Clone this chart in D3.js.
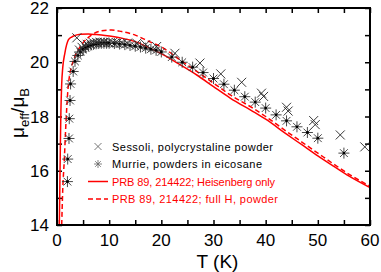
<!DOCTYPE html>
<html>
<head>
<style>
  body, html { margin: 0; padding: 0; background: #fff; }
  svg { display: block; font-family: "Liberation Sans", Arial, sans-serif; }
</style>
</head>
<body>
<svg id="svg" width="381" height="272"></svg>
<script src="https://cdn.jsdelivr.net/npm/d3@7"></script>
<script>
// Sessoli, polycrystalline powder: [T, mu_eff]
const sessoli = [
  [3.8, 20.9], [4.3, 20.45], [4.8, 20.55], [5.3, 20.62], [5.8, 20.66], [6.4, 20.7],
  [7.0, 20.72], [7.6, 20.73], [8.3, 20.74], [9.0, 20.74], [9.8, 20.73], [10.6, 20.72],
  [11.5, 20.71], [12.5, 20.7], [13.5, 20.7], [15.3, 20.7], [17.0, 20.65], [19.1, 20.58],
  [22.6, 20.33], [27.4, 19.97], [31.4, 19.57], [35.4, 19.26], [39.2, 18.86], [39.6, 18.74],
  [44.0, 18.34], [44.3, 18.2], [49.2, 17.85], [49.5, 17.7], [54.3, 17.32], [59.0, 16.88]
]
// Murrie, powders in eicosane
const murrie = [
  [2.0, 15.6], [2.05, 16.43], [2.3, 17.19], [2.35, 17.92], [2.5, 18.59], [2.6, 19.2],
  [3.1, 19.66], [3.45, 20.03], [4.0, 20.25], [4.5, 20.38], [5.0, 20.47], [5.5, 20.54],
  [6.0, 20.59], [6.5, 20.63], [7.0, 20.66], [7.5, 20.68], [8.0, 20.69], [8.5, 20.7],
  [9.0, 20.7], [9.5, 20.7], [10, 20.7], [11, 20.69], [12, 20.67], [13, 20.65],
  [14, 20.62], [15, 20.59], [16, 20.56], [17, 20.52], [18, 20.48], [19, 20.44],
  [20, 20.38], [22, 20.19], [24, 20.0], [26, 19.82], [28, 19.62], [30, 19.4],
  [32, 19.19], [34, 18.97], [36, 18.73], [38, 18.53], [40, 18.31], [42, 18.06],
  [44, 17.84], [46, 17.62], [48, 17.41], [50, 17.2], [55, 16.65]
]
// PRB 89, 214422; Heisenberg only
const heisenberg = [
  [0.45, 14.0], [0.55, 15.5], [0.65, 17.0], [0.75, 18.2], [0.9, 19.2], [1.1, 19.8],
  [1.5, 20.33], [2.2, 20.83], [2.8, 20.93], [3.5, 20.99], [4.5, 21.03], [6.0, 21.04],
  [7.5, 21.02], [9.2, 20.99], [11, 20.94], [12.4, 20.89], [15, 20.76], [17.5, 20.55],
  [20.4, 20.27], [23.5, 19.92], [26.8, 19.53], [30, 19.1], [33.2, 18.68], [37.6, 18.18],
  [40, 17.9], [44, 17.35], [47, 16.95], [50, 16.55], [53, 16.17], [56, 15.8], [60, 15.38]
]
// PRB 89, 214422; full H, powder
const fullH = [
  [0.9, 14.0], [1.1, 15.3], [1.4, 16.4], [1.7, 17.7], [2.05, 18.87], [2.4, 19.5],
  [2.8, 19.85], [3.4, 20.2], [4.7, 20.64], [6.6, 21.0], [8.6, 21.16], [10.5, 21.19],
  [12.4, 21.13], [15, 21.0], [17.5, 20.78], [20.4, 20.52], [23.5, 20.1], [26.8, 19.66],
  [30, 19.23], [33.2, 18.8], [37.6, 18.3], [40, 18.0], [44, 17.45], [47, 17.05],
  [50, 16.65], [53, 16.25], [56, 15.87], [60, 15.43]
]
const xTicks = [0, 10, 20, 30, 40, 50, 60]
const yTicks = [14, 16, 18, 20, 22]
const legendLabels = [
  "Sessoli, polycrystaline powder",
  "Murrie, powders in eicosane",
  "PRB 89, 214422; Heisenberg only",
  "PRB 89, 214422; full H, powder"
]

const margin = { top: 8, right: 11, bottom: 47, left: 57 }
const W = 381, H = 272
const svg = d3.select('#svg')

const x = d3.scaleLinear().domain([0, 60]).range([margin.left, W - margin.right])
const y = d3.scaleLinear().domain([14, 22]).range([H - margin.bottom, margin.top])

svg.append("clipPath").attr("id", "clip")
  .append("rect")
  .attr("x", x(0)).attr("y", y(22))
  .attr("width", x(60) - x(0)).attr("height", y(14) - y(22))

// axes with inward ticks on all sides
const tickLen = 5
svg.append("g").attr("transform", `translate(0,${y(14)})`)
  .call(d3.axisBottom(x).tickValues(d3.range(0, 61, 5)).tickSize(-tickLen).tickFormat(""))
svg.append("g").attr("transform", `translate(0,${y(22)})`)
  .call(d3.axisTop(x).tickValues(d3.range(0, 61, 5)).tickSize(-tickLen).tickFormat(""))
svg.append("g").attr("transform", `translate(${x(0)},0)`)
  .call(d3.axisLeft(y).tickValues(d3.range(14, 23, 1)).tickSize(-tickLen).tickFormat(""))
svg.append("g").attr("transform", `translate(${x(60)},0)`)
  .call(d3.axisRight(y).tickValues(d3.range(14, 23, 1)).tickSize(-tickLen).tickFormat(""))
svg.selectAll(".domain").remove()
svg.selectAll(".tick line").attr("stroke", "#000").attr("stroke-width", 1.5)

// tick labels
svg.selectAll(".xlab").data(xTicks).enter().append("text")
  .attr("x", d => x(d)).attr("y", y(14) + 21)
  .attr("text-anchor", "middle")
  .style("font-size", "17px")
  .text(d => d)
svg.selectAll(".ylab").data(yTicks).enter().append("text")
  .attr("x", x(0) - 8).attr("y", d => y(d) + 6)
  .attr("text-anchor", "end")
  .style("font-size", "17px")
  .text(d => d)

// model curves
const line = d3.line().x(d => x(d[0])).y(d => y(d[1])).curve(d3.curveMonotoneX)
const curves = svg.append("g").attr("clip-path", "url(#clip)")
curves.append("path").datum(heisenberg)
  .attr("d", line).attr("fill", "none").attr("stroke", "#ff0000").attr("stroke-width", 1.5)
curves.append("path").datum(fullH)
  .attr("d", line).attr("fill", "none").attr("stroke", "#ff0000").attr("stroke-width", 1.5)
  .attr("stroke-dasharray", "5,3")

// markers
function timesPath(r) {
  const p = d3.path()
  p.moveTo(-r, -r); p.lineTo(r, r); p.moveTo(-r, r); p.lineTo(r, -r)
  return p.toString()
}
function asteriskPath(r) {
  const p = d3.path()
  const q = r * Math.SQRT1_2
  p.moveTo(-r, 0); p.lineTo(r, 0); p.moveTo(0, -r); p.lineTo(0, r)
  p.moveTo(-q, -q); p.lineTo(q, q); p.moveTo(-q, q); p.lineTo(q, -q)
  return p.toString()
}
const pts = svg.append("g").attr("clip-path", "url(#clip)")
pts.selectAll(".ses").data(sessoli).enter().append("path")
  .attr("transform", d => `translate(${x(d[0])},${y(d[1])})`)
  .attr("d", timesPath(4.5)).attr("stroke", "#222").attr("stroke-width", 0.9).attr("fill", "none")
const mur = pts.selectAll(".mur").data(murrie).enter().append("g")
  .attr("transform", d => `translate(${x(d[0])},${y(d[1])})`)
mur.append("path").attr("d", asteriskPath(5.5)).attr("stroke", "#333").attr("stroke-width", 0.9).attr("fill", "none")
mur.append("circle").attr("r", 1.4).attr("fill", "#000")

// frame
svg.append("rect")
  .attr("x", x(0)).attr("y", y(22))
  .attr("width", x(60) - x(0)).attr("height", y(14) - y(22))
  .attr("fill", "none").attr("stroke", "#000").attr("stroke-width", 2)

// legend
const lg = svg.append("g")
const rowY = [146.5, 164, 181.5, 199]
lg.append("path").attr("transform", `translate(98,${rowY[0]})`)
  .attr("d", timesPath(3.5)).attr("stroke", "#555").attr("stroke-width", 0.8).attr("fill", "none")
lg.append("path").attr("transform", `translate(98,${rowY[1]})`)
  .attr("d", asteriskPath(4)).attr("stroke", "#666").attr("stroke-width", 0.8).attr("fill", "none")
lg.append("line").attr("x1", 88).attr("x2", 108).attr("y1", rowY[2]).attr("y2", rowY[2])
  .attr("stroke", "#ff0000").attr("stroke-width", 1.5)
lg.append("line").attr("x1", 88).attr("x2", 108).attr("y1", rowY[3]).attr("y2", rowY[3])
  .attr("stroke", "#ff0000").attr("stroke-width", 1.5).attr("stroke-dasharray", "5,3")
const legendEnds = [273, 262, 275, 278]
lg.selectAll(".lt").data(legendLabels).enter().append("text")
  .attr("x", 112).attr("y", (d, i) => rowY[i] + 4)
  .attr("textLength", (d, i) => legendEnds[i] - 112)
  .attr("fill", (d, i) => i < 2 ? "#000" : "#ff0000")
  .style("font-size", "11px")
  .text(d => d)

// axis titles
svg.append("text")
  .attr("x", x(30) + 4).attr("y", 268)
  .attr("text-anchor", "middle")
  .style("font-size", "19px")
  .text("T  (K)")
const yt = svg.append("text")
  .attr("transform", `translate(24,113) rotate(-90)`)
  .attr("text-anchor", "middle")
  .style("font-size", "19px")
yt.append("tspan").text("μ")
yt.append("tspan").attr("dy", 5).style("font-size", "13px").text("eff")
yt.append("tspan").attr("dy", -5).text("/μ")
yt.append("tspan").attr("dy", 5).style("font-size", "13px").text("B")
</script>
</body>
</html>
